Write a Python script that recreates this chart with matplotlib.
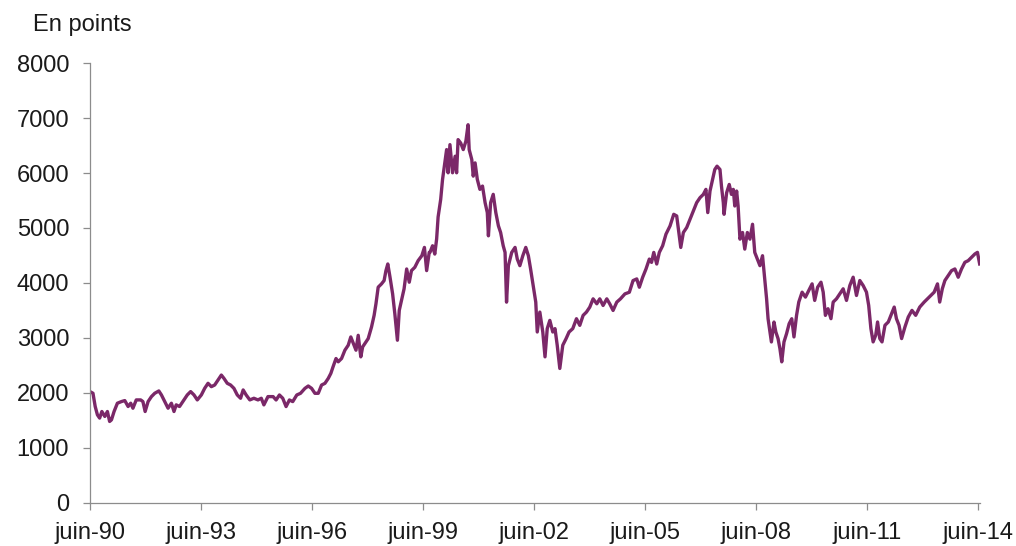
import matplotlib
matplotlib.use('Agg')
import matplotlib.pyplot as plt

plt.rcParams['font.family'] = ['Liberation Sans', 'DejaVu Sans']

# CAC 40 (decimal years, index points)
years = [
    1990.42, 1990.50, 1990.56, 1990.62, 1990.68, 1990.74, 1990.82, 1990.89, 1990.95, 1991.00,
    1991.07, 1991.16, 1991.27, 1991.36, 1991.45, 1991.52, 1991.58, 1991.67, 1991.79, 1991.85,
    1991.91, 1991.99, 1992.08, 1992.17, 1992.28, 1992.35, 1992.44, 1992.53, 1992.62, 1992.69,
    1992.75, 1992.84, 1992.93, 1993.05, 1993.14, 1993.23, 1993.32, 1993.43, 1993.52, 1993.61,
    1993.70, 1993.79, 1993.88, 1993.97, 1994.04, 1994.13, 1994.22, 1994.31, 1994.40, 1994.49,
    1994.56, 1994.64, 1994.74, 1994.85, 1994.96, 1995.05, 1995.12, 1995.23,
    1995.37, 1995.45, 1995.54, 1995.63, 1995.72, 1995.81, 1995.90, 1996.01, 1996.11, 1996.23,
    1996.32, 1996.41, 1996.50, 1996.59, 1996.68, 1996.77, 1996.86, 1996.93, 1996.99, 1997.07,
    1997.13, 1997.22, 1997.31, 1997.40, 1997.47, 1997.54, 1997.61, 1997.67, 1997.74, 1997.79,
    1997.85, 1997.94, 1998.03, 1998.10, 1998.15, 1998.21, 1998.30, 1998.37, 1998.42, 1998.47,
    1998.53, 1998.60, 1998.66, 1998.73, 1998.78, 1998.84, 1998.91, 1998.98, 1999.05, 1999.11,
    1999.20, 1999.29, 1999.39, 1999.46, 1999.52, 1999.59,
    1999.61, 1999.68, 1999.74, 1999.79, 1999.83, 1999.90, 1999.95, 2000.01, 2000.06, 2000.10,
    2000.15, 2000.22, 2000.29, 2000.33, 2000.37, 2000.44, 2000.51, 2000.58, 2000.64, 2000.67,
    2000.74, 2000.78, 2000.83, 2000.89, 2000.96, 2001.03, 2001.10, 2001.16, 2001.19, 2001.25,
    2001.32, 2001.39, 2001.46, 2001.52, 2001.59, 2001.64, 2001.68, 2001.73, 2001.82, 2001.91,
    2001.97, 2002.04, 2002.12, 2002.20, 2002.27, 2002.33, 2002.40, 2002.47, 2002.51, 2002.58,
    2002.66, 2002.72, 2002.78, 2002.85, 2002.93, 2002.99, 2003.05, 2003.12, 2003.20, 2003.29,
    2003.37, 2003.47, 2003.57, 2003.66, 2003.75, 2003.84, 2003.93, 2004.02, 2004.12,
    2004.20, 2004.29, 2004.39, 2004.47, 2004.56, 2004.66, 2004.76, 2004.88, 2005.00, 2005.10,
    2005.20, 2005.27, 2005.36, 2005.45, 2005.54, 2005.60, 2005.66, 2005.74, 2005.81, 2005.90,
    2005.99, 2006.10, 2006.20, 2006.28, 2006.35, 2006.39, 2006.46, 2006.55, 2006.64, 2006.73,
    2006.82, 2006.91, 2007.00, 2007.07, 2007.12, 2007.18, 2007.25, 2007.31, 2007.37, 2007.45,
    2007.49, 2007.54, 2007.56, 2007.63, 2007.70, 2007.76, 2007.81, 2007.85, 2007.90, 2007.94,
    2007.99, 2008.06, 2008.12, 2008.19, 2008.26, 2008.33, 2008.39, 2008.46, 2008.53, 2008.60,
    2008.66, 2008.71, 2008.75, 2008.80, 2008.84, 2008.91, 2008.96, 2009.02, 2009.07, 2009.12,
    2009.18, 2009.25, 2009.32, 2009.39, 2009.45,
    2009.52, 2009.58, 2009.67, 2009.76, 2009.85, 2009.94, 2010.01, 2010.09, 2010.18, 2010.24,
    2010.30, 2010.37, 2010.45, 2010.51, 2010.60, 2010.69, 2010.78, 2010.87, 2010.96, 2011.05,
    2011.14, 2011.23, 2011.32, 2011.41, 2011.47, 2011.53, 2011.59, 2011.66, 2011.71, 2011.77,
    2011.83, 2011.91, 2012.00, 2012.09, 2012.16, 2012.22, 2012.29, 2012.36, 2012.45, 2012.54,
    2012.64, 2012.74, 2012.85, 2012.97, 2013.06, 2013.15, 2013.24, 2013.33, 2013.39, 2013.46,
    2013.53, 2013.62, 2013.71, 2013.80, 2013.89, 2013.98, 2014.07, 2014.16, 2014.25, 2014.34,
    2014.41, 2014.47,
]
cac = [
    2025, 1995, 1754, 1603, 1543, 1663, 1573, 1663, 1482, 1512,
    1663, 1814, 1844, 1862, 1754, 1814, 1723, 1874, 1874, 1844,
    1663, 1844, 1934, 1995, 2037, 1965, 1844, 1723, 1814, 1663,
    1784, 1754, 1844, 1965, 2025, 1965, 1874, 1965, 2085, 2176,
    2115, 2145, 2236, 2326, 2266, 2176, 2145, 2085, 1965, 1904,
    2055, 1965, 1874, 1904, 1874, 1904, 1784, 1934,
    1934, 1873, 1964, 1904, 1753, 1873, 1843, 1964, 1994, 2084,
    2127, 2084, 1994, 1994, 2145, 2175, 2265, 2356, 2476, 2627,
    2567, 2627, 2778, 2868, 3019, 2898, 2778, 3049, 2657, 2838,
    2898, 2989, 3200, 3411, 3622, 3924, 3984, 4044, 4225, 4346,
    4105, 3803, 3441, 2959, 3502, 3682, 3894, 4255, 4014, 4225,
    4285, 4406, 4496, 4647, 4225, 4557,
    4556, 4677, 4526, 4800, 5200, 5521, 5883, 6184, 6426, 6004,
    6516, 6004, 6305, 6004, 6607, 6546, 6426, 6576, 6878, 6426,
    6245, 5943, 6184, 5883, 5702, 5762, 5461, 5280, 4858, 5461,
    5612, 5280, 5039, 4918, 4677, 4556, 3652, 4315, 4556, 4647,
    4436, 4315, 4496, 4647, 4496, 4255, 3953, 3652, 3109, 3471,
    3109, 2657, 3170, 3320, 3109, 3170, 2868, 2446, 2868, 2989,
    3109, 3170, 3350, 3230, 3411, 3471, 3561, 3712, 3622,
    3712, 3591, 3712, 3621, 3501, 3652, 3712, 3802, 3832, 4044,
    4074, 3923, 4104, 4255, 4435, 4375, 4556, 4345, 4556, 4677,
    4888, 5038, 5249, 5219, 4858, 4646, 4918, 5008, 5159, 5310,
    5461, 5551, 5611, 5702, 5280, 5672, 5883, 6064, 6124, 6064,
    5762, 5461, 5249, 5641, 5792, 5611, 5702, 5400, 5672, 5400,
    4797, 4918, 4616, 4918, 4797, 5068, 4556, 4435, 4315, 4496,
    4074, 3712, 3350, 3109, 2928, 3290, 3109, 2988, 2807, 2566,
    2928, 3079, 3260, 3350, 3019,
    3411, 3653, 3833, 3743, 3864, 3984, 3683, 3924, 4014, 3833,
    3411, 3532, 3351, 3653, 3713, 3803, 3894, 3683, 3954, 4105,
    3773, 4045, 3954, 3833, 3592, 3170, 2929, 3050, 3291, 2989,
    2929, 3231, 3291, 3442, 3562, 3351, 3231, 2989, 3200, 3381,
    3502, 3412, 3562, 3653, 3713, 3773, 3833, 3984, 3653, 3894,
    4045, 4135, 4225, 4255, 4105, 4255, 4376, 4406, 4467, 4527,
    4557, 4346,
]

tick_years = [1990.42, 1993.42, 1996.42, 1999.42, 2002.42, 2005.42, 2008.42, 2011.42, 2014.42]
tick_labels = ['juin-90', 'juin-93', 'juin-96', 'juin-99', 'juin-02',
               'juin-05', 'juin-08', 'juin-11', 'juin-14']

fig = plt.figure(figsize=(10.16, 5.46), dpi=100)
ax = fig.add_axes([0.0886, 0.0788, 0.876, 0.8058])

ax.plot(years, cac, color='#7b2868', linewidth=2.4, solid_joinstyle='round')

ax.set_xlim(1990.42, 2014.48)
ax.set_ylim(0, 8000)
ax.set_yticks(range(0, 8001, 1000))
ax.set_xticks(tick_years)
ax.set_xticklabels(tick_labels)

for s in ['top', 'right']:
    ax.spines[s].set_visible(False)
for s in ['left', 'bottom']:
    ax.spines[s].set_color('#8c8c8c')
    ax.spines[s].set_linewidth(0.9)

ax.tick_params(axis='both', direction='out', length=5, width=0.9, color='#8c8c8c',
               labelsize=17, labelcolor='#1a1a1a')
ax.tick_params(axis='y', pad=10)
ax.tick_params(axis='x', pad=9)

fig.text(33 / 1016, 1 - 25 / 546, 'En points', fontsize=17, color='#1a1a1a', va='center')

plt.savefig('out.png', dpi=100)
plt.close()
